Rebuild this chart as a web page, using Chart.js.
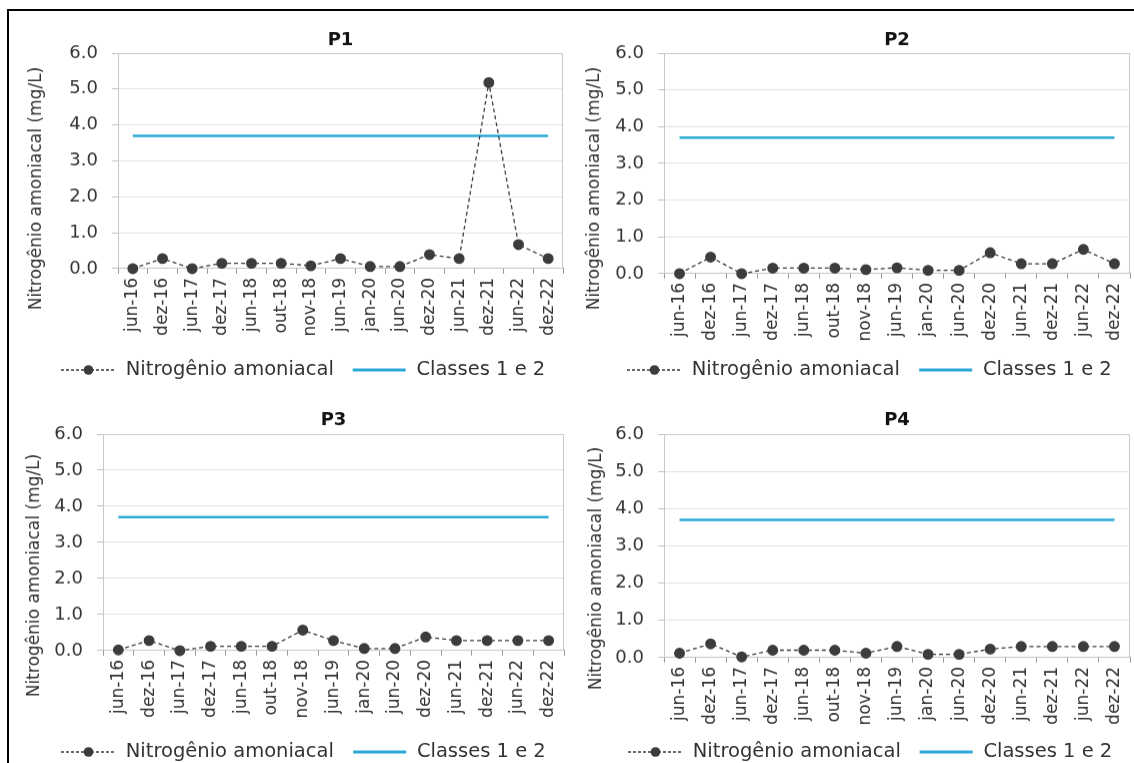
<!DOCTYPE html>
<html>
<head>
<meta charset="utf-8">
<script src="https://cdn.jsdelivr.net/npm/chart.js@4/dist/chart.umd.min.js"></script>
<style>
  body { margin: 0; background: #fff; width: 1134px; height: 763px; overflow: hidden; position: relative; }
  #frame { position: absolute; left: 7px; top: 9px; width: 1200px; height: 800px; border: 2px solid #000; }
  canvas { position: absolute; }
</style>
</head>
<body>
<div id="frame"></div>
<canvas id="c1"></canvas>
<canvas id="c2"></canvas>
<canvas id="c3"></canvas>
<canvas id="c4"></canvas>
<script>
// Sampling dates (x axis)
const labels = ['jun-16', 'dez-16', 'jun-17', 'dez-17', 'jun-18', 'out-18', 'nov-18', 'jun-19',
                'jan-20', 'jun-20', 'dez-20', 'jun-21', 'dez-21', 'jun-22', 'dez-22'];

// Nitrogênio amoniacal (mg/L) per sampling point
const p1 = [0.00, 0.28, 0.00, 0.15, 0.15, 0.15, 0.08, 0.28, 0.06, 0.06, 0.39, 0.28, 5.18, 0.67, 0.28];
const p2 = [0.00, 0.45, 0.00, 0.15, 0.15, 0.15, 0.11, 0.16, 0.09, 0.09, 0.57, 0.27, 0.27, 0.66, 0.27];
const p3 = [0.02, 0.28, 0.00, 0.12, 0.12, 0.12, 0.57, 0.28, 0.06, 0.06, 0.38, 0.28, 0.28, 0.28, 0.28];
const p4 = [0.12, 0.37, 0.02, 0.20, 0.20, 0.20, 0.12, 0.30, 0.09, 0.09, 0.23, 0.30, 0.30, 0.30, 0.30];

// CONAMA limit, Classes 1 e 2
const classes = [3.7, 3.7, 3.7, 3.7, 3.7, 3.7, 3.7, 3.7, 3.7, 3.7, 3.7, 3.7, 3.7, 3.7, 3.7];

const yTicks = [0, 1, 2, 3, 4, 5, 6];
const yTitleText = 'Nitrogênio amoniacal (mg/L)';

const FONT = '"DejaVu Sans", Verdana, sans-serif';
const DARK = '#3c3c3c';
const TEXT = '#333';
const BLUE = '#2aa9d6';
const SW = 55;          // legend swatch width
const LEG_FONT = 19.5;

// legend swatches: dashed line with dot, and plain blue line
function swatch(kind) {
    const c = document.createElement('canvas');
    c.width = SW;
    c.height = 12;
    const ctx = c.getContext('2d');
    if (kind === 'dot') {
        ctx.strokeStyle = DARK;
        ctx.lineWidth = 1.3;
        ctx.setLineDash([3, 2]);
        ctx.beginPath();
        ctx.moveTo(0, 6);
        ctx.lineTo(SW, 6);
        ctx.stroke();
        ctx.fillStyle = DARK;
        ctx.beginPath();
        ctx.arc(SW / 2, 6, 4.8, 0, Math.PI * 2);
        ctx.fill();
    } else {
        ctx.strokeStyle = BLUE;
        ctx.lineWidth = 3;
        ctx.beginPath();
        ctx.moveTo(1, 6);
        ctx.lineTo(SW - 1, 6);
        ctx.stroke();
    }
    return c;
}
const swatches = [swatch('dot'), swatch('line')];

// light frame round the plot area
const plotFrame = {
    id: 'plotFrame',
    beforeDatasetsDraw(chart) {
        const a = chart.chartArea;
        const ctx = chart.ctx;
        ctx.save();
        ctx.strokeStyle = '#c8c8c8';
        ctx.lineWidth = 1;
        ctx.strokeRect(a.left + 0.5, a.top + 0.5, a.right - a.left - 1, a.bottom - a.top - 1);
        ctx.restore();
    }
};

// vertical axis title, placed like the Excel one (centred on the panel, not on the plot)
const yTitle = {
    id: 'yTitle',
    afterDraw(chart, args, opts) {
        const ctx = chart.ctx;
        ctx.save();
        ctx.translate(opts.x, opts.y);
        ctx.rotate(-Math.PI / 2);
        ctx.font = '17px ' + FONT;
        ctx.fillStyle = TEXT;
        ctx.textAlign = 'center';
        ctx.textBaseline = 'middle';
        ctx.fillText(yTitleText, 0, 0);
        ctx.restore();
    }
};

function makePanel(n, values, g) {
    const canvas = document.getElementById('c' + n);
    // st holds the layout numbers; they get corrected after a first pass
    const st = {
        w: g.pr + 10 - g.cl,
        h: g.ly + 30 - g.ct,
        padRight: 10,
        padTop: g.ty - g.ct - 10.8,
        padBottom: 4,
        xHeight: 70,
        yWidth: g.pl - g.cl,
        legPad: 18
    };
    st.padBottom = g.pt - g.ct - st.padTop - 21.6;
    canvas.style.left = g.cl + 'px';
    canvas.style.top = g.ct + 'px';
    canvas.width = st.w;
    canvas.height = st.h;

    const chart = new Chart(canvas, {
        type: 'line',
        data: {
            labels: labels,
            datasets: [{
                label: 'Nitrogênio amoniacal',
                data: values,
                borderColor: DARK,
                borderWidth: 1.3,
                borderDash: [4, 3],
                pointRadius: 4.8,
                pointBackgroundColor: DARK,
                pointBorderColor: DARK,
                tension: 0,
                clip: false
            }, {
                label: 'Classes 1 e 2',
                data: classes,
                borderColor: BLUE,
                borderWidth: 2.5,
                pointRadius: 0,
                tension: 0
            }]
        },
        options: {
            responsive: false,
            maintainAspectRatio: false,
            animation: false,
            layout: { padding: { left: 0, right: st.padRight, top: 0, bottom: 0 } },
            plugins: {
                title: {
                    display: true,
                    fullSize: false,
                    text: 'P' + n,
                    color: '#111',
                    font: { family: FONT, size: 18, weight: 'bold' },
                    padding: { top: st.padTop, bottom: st.padBottom }
                },
                legend: {
                    position: 'bottom',
                    align: 'end',
                    labels: {
                        usePointStyle: true,
                        pointStyleWidth: SW,
                        padding: st.legPad,
                        color: TEXT,
                        font: { family: FONT, size: LEG_FONT },
                        generateLabels(chart) {
                            const items = Chart.defaults.plugins.legend.labels.generateLabels(chart);
                            items.forEach((it, i) => { it.pointStyle = swatches[i]; });
                            return items;
                        }
                    }
                },
                tooltip: { enabled: false },
                yTitle: { x: g.tx - g.cl, y: g.tyc - g.ct }
            },
            scales: {
                x: {
                    offset: true,
                    grid: { offset: true, drawOnChartArea: false, tickLength: 5, color: '#9a9a9a' },
                    border: { color: '#9a9a9a' },
                    ticks: {
                        autoSkip: false, minRotation: 90, maxRotation: 90, padding: 4,
                        color: TEXT, font: { family: FONT, size: 17 }
                    },
                    afterFit(scale) {
                        scale.height = st.xHeight;
                        scale.paddingLeft = 0;
                        scale.paddingRight = 0;
                    }
                },
                y: {
                    min: 0,
                    max: 6,
                    afterBuildTicks(scale) { scale.ticks = yTicks.map(v => ({ value: v })); },
                    grid: { color: '#e2e2e2', tickLength: 6, tickColor: '#c0c0c0' },
                    border: { color: '#c0c0c0' },
                    ticks: {
                        padding: 14,
                        color: TEXT,
                        font: { family: FONT, size: 18 },
                        callback: v => Number(v).toFixed(1)
                    },
                    afterFit(scale) { scale.width = st.yWidth; }
                }
            }
        },
        plugins: [plotFrame, yTitle]
    });

    // a few correction passes so the plot box and legend land where the picture has them
    for (let pass = 0; pass < 4; pass++) {
        const a = chart.chartArea;
        const hb = chart.legend.legendHitBoxes;
        st.padRight += (g.cl + a.right) - g.pr;
        st.yWidth -= (g.cl + a.left) - g.pl;
        st.padBottom -= (g.ct + a.top) - g.pt;
        st.legPad += ((g.cl + hb[0].left) - g.lx) / 2;
        const legY = g.ct + hb[0].top + hb[0].height / 2;
        const dl = legY - g.ly;
        const eb = (g.ct + a.bottom) - g.pb;
        st.h -= dl;
        st.xHeight += eb - dl;
        const o = chart.options;
        o.layout.padding.right = st.padRight;
        o.plugins.title.padding = { top: st.padTop, bottom: st.padBottom };
        o.plugins.legend.labels.padding = st.legPad;
        chart.resize(st.w, st.h);
        chart.update();
    }
    return chart;
}

makePanel(1, p1, { cl: 10, ct: 12, pl: 118, pr: 563, pt: 53, pb: 268, ty: 40, ly: 369, lx: 61, tx: 37, tyc: 188 });
makePanel(2, p2, { cl: 567, ct: 12, pl: 664, pr: 1130, pt: 53, pb: 273, ty: 40, ly: 369, lx: 627, tx: 595, tyc: 188 });
makePanel(3, p3, { cl: 10, ct: 396, pl: 103, pr: 564, pt: 434, pb: 650, ty: 420, ly: 751, lx: 61, tx: 35, tyc: 575 });
makePanel(4, p4, { cl: 567, ct: 396, pl: 664, pr: 1130, pt: 434, pb: 657, ty: 420, ly: 751, lx: 628, tx: 597, tyc: 568 });
</script>
</body>
</html>
